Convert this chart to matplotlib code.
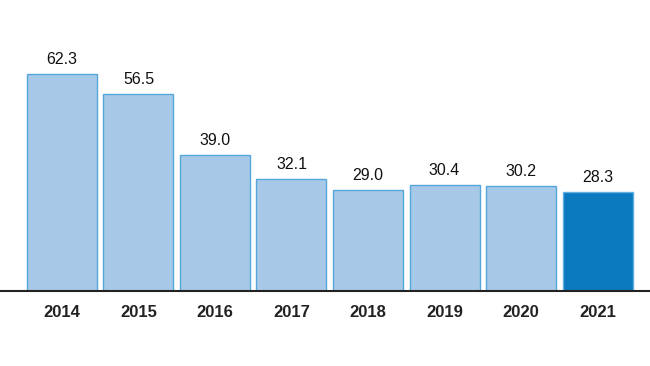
import matplotlib.pyplot as plt

plt.rcParams["font.family"] = ["Liberation Sans", "DejaVu Sans"]

years = ["2014", "2015", "2016", "2017", "2018", "2019", "2020", "2021"]
values = [62.3, 56.5, 39.0, 32.1, 29.0, 30.4, 30.2, 28.3]

light = "#a7c9e7"
light_edge = "#55a6da"
dark = "#0a79bd"
colors = [light] * 7 + [dark]
edges = [light_edge] * 7 + ["#5fb0e0"]

fig = plt.figure(figsize=(6.5, 3.66), dpi=100)
ax = fig.add_axes([0, 75 / 366, 1, 291 / 366])

x = range(len(years))
bars = ax.bar(x, values, width=0.915, color=colors, edgecolor=edges, linewidth=1)

for b, v in zip(bars, values):
    ax.text(b.get_x() + b.get_width() / 2, v + 2.1, f"{v:.1f}",
            ha="center", va="bottom", fontsize=11.5, color="#111111")

ax.set_xlim(-0.81, 7.686)
ax.set_ylim(0, 83.6)
ax.set_xticks(list(x))
ax.set_xticklabels(years, fontsize=12, fontweight="bold", color="#222222")
ax.tick_params(axis="x", length=0, pad=10)
ax.set_yticks([])
for s in ["top", "right", "left"]:
    ax.spines[s].set_visible(False)
ax.spines["bottom"].set_color("#222222")
ax.spines["bottom"].set_linewidth(1.5)

fig.savefig("out.png", dpi=100)
